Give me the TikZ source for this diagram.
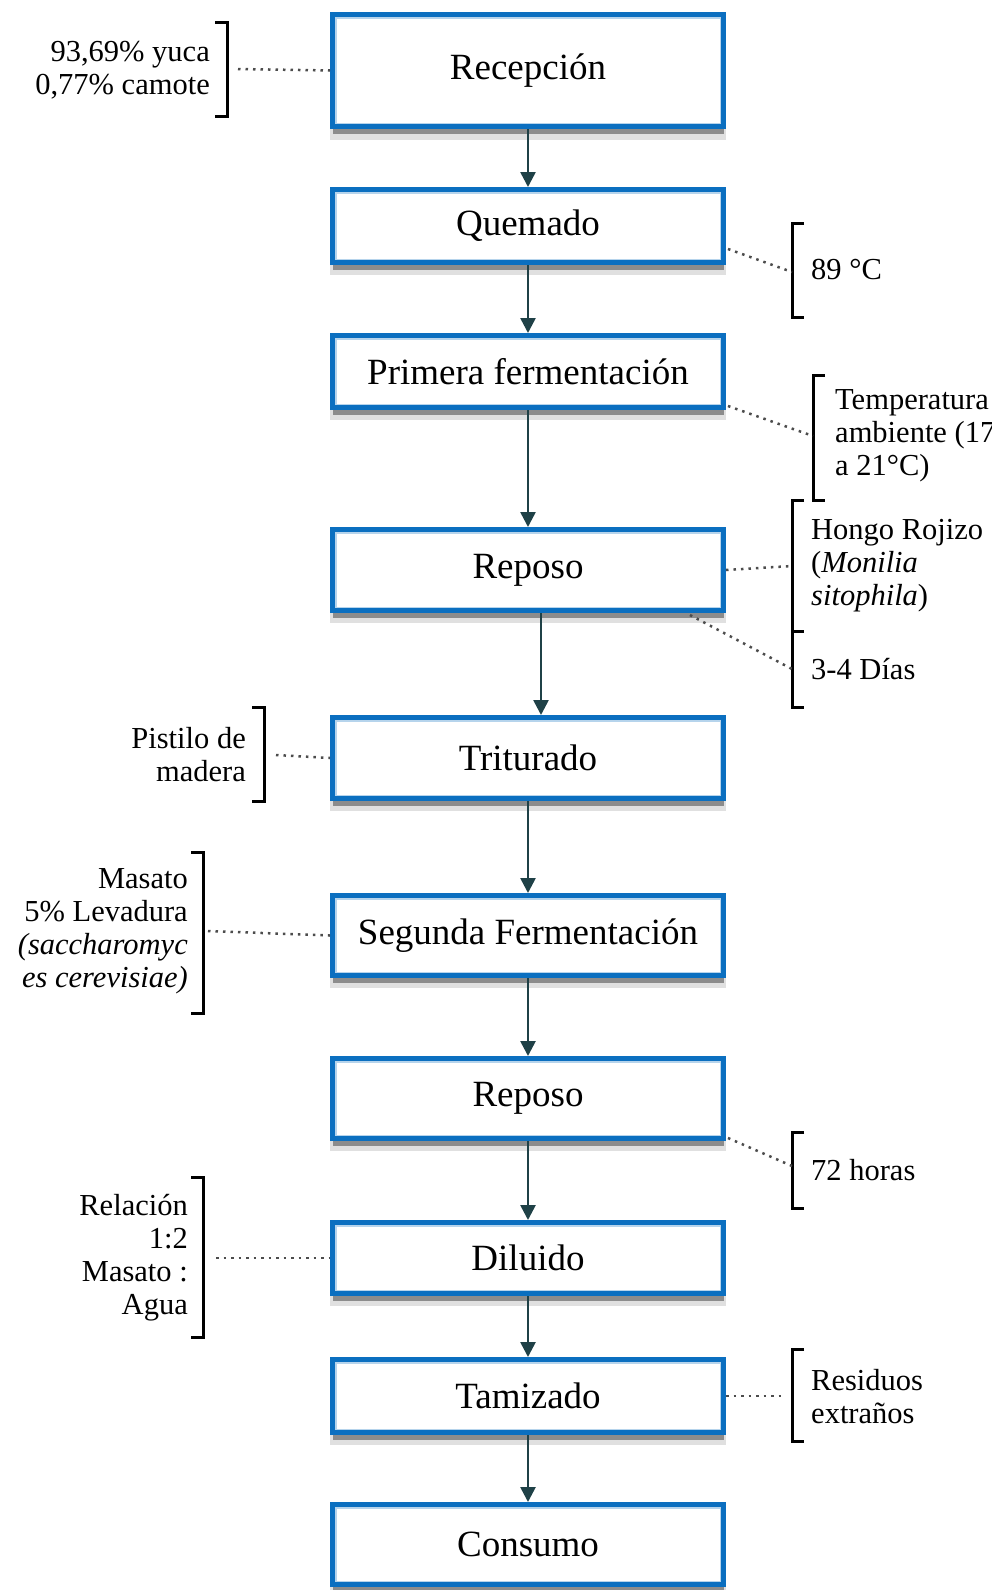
\documentclass[tikz,border=0pt]{standalone}
\usepackage{fontspec}
\setmainfont{Liberation Serif}
\usetikzlibrary{arrows.meta,shadows,calc}
\definecolor{boxblue}{RGB}{11,111,192}
\definecolor{arrowcol}{RGB}{31,65,71}
\tikzset{
  proc/.style={draw=boxblue, line width=5pt, fill=white, minimum width=391pt,
    inner sep=0pt, font=\fontsize{37}{40}\selectfont,
    path picture={\draw[boxblue!30, line width=8pt] (path picture bounding box.south west) rectangle (path picture bounding box.north east);},
    general shadow={fill=black!12, shadow xshift=0pt, shadow yshift=-12pt, shadow scale=1.015},
    drop shadow={fill=black!45, shadow xshift=0pt, shadow yshift=-7pt, opacity=1}},
  flow/.style={draw=arrowcol, line width=2.6pt, -{Triangle[width=15pt,length=15pt]}},
  note/.style={inner sep=0pt, font=\fontsize{30.5}{33}\selectfont},
  brk/.style={draw=black, line width=3pt},
  dots/.style={draw=black!70, line width=2.5pt, dash pattern=on 2.5pt off 5pt},
}
\begin{document}
\begin{tikzpicture}[x=1pt,y=-1pt]
\useasboundingbox (0,0) rectangle (991,1590);
\clip (0,0) rectangle (991,1590);
% process boxes
\node[proc, minimum height=112pt] (rec) at (528,70.5) {Recepción};
\node[proc, minimum height=73pt] (que) at (528,226) {Quemado};
\node[proc, minimum height=72pt] (pri) at (528,371.5) {Primera fermentación};
\node[proc, minimum height=81pt] (rep1) at (528,570) {Reposo};
\node[proc, minimum height=81pt] (tri) at (528,758) {Triturado};
\node[proc, minimum height=80pt] (seg) at (528,935.5) {Segunda Fermentación};
\node[proc, minimum height=80pt] (rep2) at (528,1098.5) {Reposo};
\node[proc, minimum height=71pt] (dil) at (528,1258) {Diluido};
\node[proc, minimum height=73pt] (tam) at (528,1396) {Tamizado};
\node[proc, minimum height=80pt] (con) at (528,1544.5) {Consumo};
% arrows
\coordinate (ax) at (541,0);
\draw[flow] (rec) -- (que);
\draw[flow] (que) -- (pri);
\draw[flow] (pri) -- (rep1);
\draw[flow] (rep1.south -| ax) -- (tri.north -| ax);
\draw[flow] (tri) -- (seg);
\draw[flow] (seg) -- (rep2);
\draw[flow] (rep2) -- (dil);
\draw[flow] (dil) -- (tam);
\draw[flow] (tam) -- (con);
% annotation texts
\node[note, align=right, anchor=east] (t1) at (210,70.5) {93,69\% yuca\\0,77\% camote};
\node[note, anchor=west] (t2) at (811,270) {89 °C};
\node[note, align=left, anchor=west] (t3) at (835,436) {Temperatura\\ambiente (17\\a 21°C)};
\node[note, align=left, anchor=west] (t4) at (811,566) {Hongo Rojizo\\(\textit{Monilia}\\\textit{sitophila})};
\node[note, anchor=west] (t5) at (811,669) {3-4 Días};
\node[note, align=right, anchor=east] (t6) at (246,754.5) {Pistilo de\\madera};
\node[note, align=right, anchor=east] (t7) at (188,931.5) {Masato\\5\% Levadura\\\textit{(saccharomyc}\\\textit{es cerevisiae)}};
\node[note, anchor=west] (t8) at (811,1170) {72 horas};
\node[note, align=right, anchor=east] (t9) at (188,1258) {Relación\\1:2\\Masato :\\Agua};
\node[note, align=left, anchor=west] (t10) at (811,1396.5) {Residuos\\extraños};
% brackets
\draw[brk] (215,22) -- (227,22) -- (227,116) -- (215,116);
\draw[brk] (804,223) -- (792,223) -- (792,317) -- (804,317);
\draw[brk] (825,375) -- (813,375) -- (813,500) -- (825,500);
\draw[brk] (804,500) -- (792,500) -- (792,707) -- (804,707);
\draw[brk] (792,631) -- (804,631);
\draw[brk] (252,707) -- (264,707) -- (264,801) -- (252,801);
\draw[brk] (191,852) -- (203,852) -- (203,1013) -- (191,1013);
\draw[brk] (804,1132) -- (792,1132) -- (792,1208) -- (804,1208);
\draw[brk] (191,1177) -- (203,1177) -- (203,1337) -- (191,1337);
\draw[brk] (804,1349) -- (792,1349) -- (792,1441) -- (804,1441);
% bracket anchor points
\coordinate (b1) at (238,69);
\coordinate (b2) at (792,272);
\coordinate (b3) at (813,436);
\coordinate (b4) at (792,566);
\coordinate (b5) at (792,669);
\coordinate (b6) at (276,755);
\coordinate (b7) at (208,931);
\coordinate (b8) at (792,1166);
\coordinate (b9) at (216,1258);
\coordinate (b10) at (783,1396);
% box-side points
\coordinate (q1) at (728,249);
\coordinate (p1) at (728,406);
\coordinate (r1) at (690,615);
\coordinate (r2) at (728,1138);
% dotted leaders
\draw[dots] (b1) -- (rec.west);
\draw[dots] (q1) -- (b2);
\draw[dots] (p1) -- (b3);
\draw[dots] (rep1.east) -- (b4);
\draw[dots] (r1) -- (b5);
\draw[dots] (b6) -- (tri.west);
\draw[dots] (b7) -- (seg.west);
\draw[dots] (r2) -- (b8);
\draw[dots] (b9) -- (dil.west);
\draw[dots] (tam.east) -- (b10);
\end{tikzpicture}
\end{document}
